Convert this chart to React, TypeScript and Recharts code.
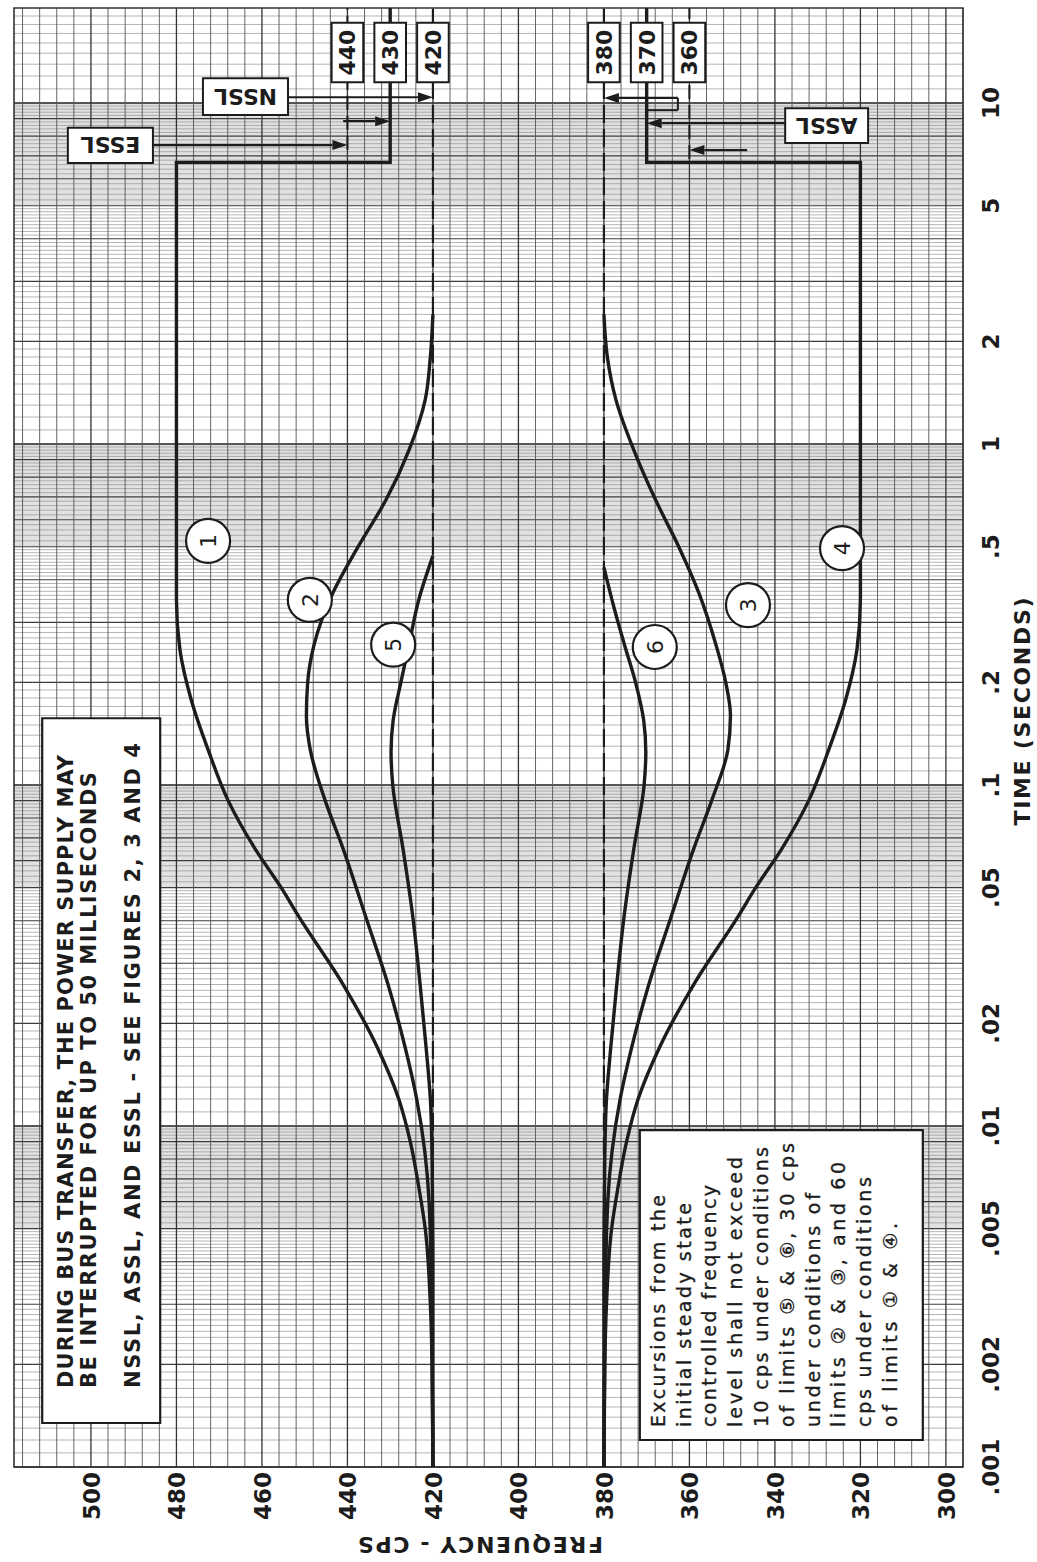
import React from 'react';
import {
  LineChart, Line, XAxis, YAxis, ReferenceLine, ReferenceArea, ReferenceDot
} from 'recharts';

// time in seconds (log axis), frequency in cps
const timeTicks = [0.001, 0.002, 0.005, 0.01, 0.02, 0.05, 0.1, 0.2, 0.5, 1, 2, 5, 10];
const timeTickLabels = ['.001', '.002', '.005', '.01', '.02', '.05', '.1', '.2', '.5', '1', '2', '5', '10'];
const freqTicks = [300, 320, 340, 360, 380, 400, 420, 440, 460, 480, 500];

// limit 1 (60 cps above 420) and its steady-state step
const limit1Time = [0.001, 0.002, 0.003, 0.005, 0.0065, 0.009, 0.012, 0.017, 0.026, 0.041, 0.05, 0.065, 0.09, 0.127, 0.177, 0.25, 0.35, 0.5];
const limit1Freq = [420, 420.2, 420.6, 421.8, 423.2, 425.3, 428, 433, 441, 451.3, 455.5, 461.6, 467.9, 472.6, 476.5, 479.2, 480, 480];
const limit1StepTime = [0.5, 6.7, 6.7, 19];
const limit1StepFreq = [480, 480, 430, 430];

// limit 2 (30 cps) and limit 5 (10 cps) above 420
const limit2Time = [0.001, 0.003, 0.006, 0.012, 0.017, 0.026, 0.041, 0.065, 0.09, 0.127, 0.16, 0.2, 0.258, 0.366, 0.5, 0.685, 0.96, 1.35, 1.8, 2.4];
const limit2Freq = [420, 420.3, 420.9, 423.8, 426.5, 430.5, 435.7, 441, 445.2, 448.7, 449.6, 449.3, 447.8, 443.4, 437.5, 431, 425.6, 421.8, 420.6, 420];
const limit5Time = [0.001, 0.004, 0.008, 0.012, 0.017, 0.026, 0.041, 0.065, 0.1, 0.125, 0.155, 0.2, 0.258, 0.35, 0.47];
const limit5Freq = [420, 420, 420.2, 420.6, 421.6, 423, 424.7, 427, 429.4, 429.8, 429.3, 427.5, 425.6, 423.3, 420];

// limits 3, 4, 6 below 380
const limit3Time = [0.001, 0.003, 0.006, 0.012, 0.017, 0.026, 0.041, 0.065, 0.09, 0.127, 0.16, 0.2, 0.258, 0.366, 0.5, 0.685, 0.96, 1.35, 1.8, 2.4];
const limit3Freq = [380, 379.7, 379.1, 376.2, 373.5, 369.5, 364.3, 359, 354.8, 351, 350.4, 351.5, 353.8, 357.8, 362.5, 367.9, 373, 377.2, 379.2, 380];
const limit4Time = [0.001, 0.002, 0.003, 0.005, 0.0065, 0.009, 0.012, 0.017, 0.026, 0.041, 0.05, 0.065, 0.09, 0.127, 0.177, 0.25, 0.35, 0.5];
const limit4Freq = [380, 379.8, 379.4, 378.2, 376.8, 374.7, 372, 367, 359, 348.7, 344.5, 338.4, 332.1, 327.4, 323.5, 320.8, 320, 320];
const limit4StepTime = [0.5, 6.7, 6.7, 19];
const limit4StepFreq = [320, 320, 370, 370];
const limit6Time = [0.001, 0.004, 0.008, 0.012, 0.017, 0.026, 0.041, 0.065, 0.1, 0.125, 0.155, 0.2, 0.258, 0.33, 0.435];
const limit6Freq = [380, 380, 379.8, 379.4, 378.4, 377, 375.3, 373, 370.6, 370.2, 370.7, 372.6, 375.2, 377.6, 380];

// circled limit numbers
const circleIds = ['1', '2', '3', '4', '5', '6'];
const circleTime = [0.52, 0.349, 0.337, 0.495, 0.258, 0.254];
const circleFreq = [472.6, 448.8, 346.3, 324.3, 429.3, 368.1];

// steady state level boxes
const levelValues = [440, 430, 420, 380, 370, 360];

// arrows: time, from freq, to freq
const arrowTime = [7.53, 10.4, 8.85, 8.73, 7.28, 10.35];
const arrowFrom = [485.5, 453.9, 441, 337.6, 346.5, 362.7];
const arrowTo = [440, 420, 430, 370, 360, 380];

const topNoteLines = [
  'DURING BUS TRANSFER, THE POWER SUPPLY MAY',
  'BE INTERRUPTED FOR UP TO 50 MILLISECONDS',
  'NSSL, ASSL, AND ESSL - SEE FIGURES 2, 3 AND 4',
];
const bottomNoteLines = [
  'Excursions from the',
  'initial steady state',
  'controlled frequency',
  'level shall not exceed',
  '10 cps under conditions',
  'of limits \u2464 & \u2465, 30 cps',
  'under conditions of',
  'limits \u2461 & \u2462, and 60',
  'cps under conditions',
  'of limits \u2460 & \u2463.',
];

const INK = '#1c1c1c';
const FONT = '"DejaVu Sans", "Noto Sans CJK JP", sans-serif';

const toPoints = (ts: number[], fs: number[]) => ts.map((t, i) => ({ t, f: fs[i] }));

// graph paper lines
const timeMinor: number[] = [];
const timeMajor: number[] = [];
const timeDecade: number[] = [];
const tintBands: number[][] = [];
[-3, -2, -1, 0, 1].forEach((k) => {
  const base = Math.pow(10, k);
  if (k < 1) tintBands.push([Number((5 * base).toPrecision(6)), Number((10 * base).toPrecision(6))]);
  for (let i = 10; i < 100; i++) {
    const t = Number(((i / 10) * base).toPrecision(6));
    if (t >= 19) break;
    if (i >= 50 && i % 2 === 1) continue;
    if (i === 10) timeDecade.push(t);
    else if (i % 10 === 0) timeMajor.push(t);
    else timeMinor.push(t);
  }
});
const freqMinor: number[] = [];
const freqMajor: number[] = [];
for (let f = 296; f <= 516; f += 4) {
  if (f % 20 === 0) freqMajor.push(f);
  else freqMinor.push(f);
}

const TimeTick = (props: any) => {
  const { x, y, payload } = props;
  const idx = timeTicks.indexOf(payload.value);
  return (
    <text x={x} y={y + 36} textAnchor="middle" fontSize={23} fontWeight="bold" fill={INK} fontFamily={FONT}>
      {timeTickLabels[idx]}
    </text>
  );
};

const FreqTick = (props: any) => {
  const { x, y, payload } = props;
  return (
    <text x={x - 5} y={y + 9} textAnchor="end" fontSize={23} fontWeight="bold" fill={INK} fontFamily={FONT}>
      {payload.value}
    </text>
  );
};

const arrowShape = (p: any) => {
  const { x1, y1, x2, y2 } = p;
  const a = Math.atan2(y2 - y1, x2 - x1);
  const len = 15;
  const half = 5;
  const bx = x2 - len * Math.cos(a);
  const by = y2 - len * Math.sin(a);
  const pts = `${x2},${y2} ${bx + half * Math.sin(a)},${by - half * Math.cos(a)} ${bx - half * Math.sin(a)},${by + half * Math.cos(a)}`;
  return (
    <g>
      <line x1={x1} y1={y1} x2={bx} y2={by} stroke={INK} strokeWidth={2.2} />
      <polygon points={pts} fill={INK} />
    </g>
  );
};

const plainSegment = (p: any) => (
  <line x1={p.x1} y1={p.y1} x2={p.x2} y2={p.y2} stroke={INK} strokeWidth={2} />
);

const vertLabel = (text: string) => (props: any) => {
  const { x, y, width, height } = props.viewBox;
  const cx = x + width / 2 + 8;
  const cy = y + height / 2;
  return (
    <text x={cx} y={cy} transform={`rotate(-90, ${cx}, ${cy})`} textAnchor="middle" fontSize={22} fontWeight="bold" fill={INK} fontFamily={FONT}>
      {text}
    </text>
  );
};

const boxNumber = (text: string) => (props: any) => {
  const { x, y, width, height } = props.viewBox;
  return (
    <text x={x + width / 2} y={y + height / 2 + 8} textAnchor="middle" fontSize={22} fontWeight="bold" fill={INK} fontFamily={FONT}>
      {text}
    </text>
  );
};

const topNote = (props: any) => {
  const { x, y } = props.viewBox;
  const baselines = [31, 54, 98];
  const lengths = [633, 616, 645];
  return (
    <g>
      {topNoteLines.map((s, i) => (
        <text key={i} x={x + 35} y={y + baselines[i]} textLength={lengths[i]} lengthAdjust="spacing"
          fontSize={21} fontWeight="bold" fill={INK} fontFamily={FONT}>{s}</text>
      ))}
    </g>
  );
};

const bottomNote = (props: any) => {
  const { x, y } = props.viewBox;
  const lengths = [232, 224, 242, 270, 280, 284, 234, 265, 250, 204];
  return (
    <g>
      {bottomNoteLines.map((s, i) => (
        <text key={i} x={x + 13} y={y + 25 + i * 25.8} textLength={lengths[i]} lengthAdjust="spacing"
          fontSize={19} fill={INK} fontFamily={FONT} stroke={INK} strokeWidth={0.35}>{s}</text>
      ))}
    </g>
  );
};

const circleShape = (id: string) => (p: any) => (
  <g>
    <circle cx={p.cx} cy={p.cy} r={22} fill="#fff" stroke={INK} strokeWidth={2.2} />
    <text x={p.cx} y={p.cy + 8} textAnchor="middle" fontSize={22} fill={INK} fontFamily={FONT}>{id}</text>
  </g>
);

const App: React.FC = () => {
  return (
    <div style={{ position: 'absolute', left: 0, top: 0, width: 1037, height: 1562, overflow: 'hidden', background: '#fff' }}>
      <style>{'html,body{margin:0;overflow:hidden;background:#fff}'}</style>
      <div style={{ position: 'absolute', left: 0, top: 0, width: 1562, height: 1037, transformOrigin: '0 0', transform: 'translate(0px, 1562px) rotate(-90deg)' }}>
        <LineChart width={1562} height={1037} margin={{ top: 14, right: 8, bottom: 0, left: 0 }} style={{ fontFamily: FONT }}>
          <XAxis
            type="number" dataKey="t" scale="log" domain={[0.001, 19]} allowDataOverflow
            ticks={timeTicks} height={74} axisLine={false} tickLine={false} tickSize={0} tickMargin={0}
            tick={TimeTick} interval={0}
            label={(p: any) => {
              const { x, y, width } = p.viewBox;
              return (
                <text x={x + width / 2 + 26} y={y + 67} textAnchor="middle" fontSize={22} fontWeight="bold"
                  fill={INK} fontFamily={FONT} textLength={228} lengthAdjust="spacing">TIME (SECONDS)</text>
              );
            }}
          />
          <YAxis
            type="number" domain={[296, 518]} allowDataOverflow ticks={freqTicks} width={95}
            axisLine={false} tickLine={false} tickSize={0} tickMargin={0} tick={FreqTick} interval={0}
            label={(p: any) => {
              const { y, height } = p.viewBox;
              const cx = 25;
              const cy = y + height / 2 - 8;
              return (
                <text x={cx} y={cy} transform={`rotate(-90, ${cx}, ${cy})`} textAnchor="middle" fontSize={22}
                  fontWeight="bold" fill={INK} fontFamily={FONT} textLength={245} lengthAdjust="spacing">FREQUENCY - CPS</text>
              );
            }}
          />

          {/* graph paper */}
          {tintBands.map(([a, b]) => (
            <ReferenceArea key={'tb' + a} x1={a} x2={b} y1={296} y2={518} fill="#b4b4b4" fillOpacity={0.4} stroke="none" zIndex={-70} />
          ))}
          {timeMinor.map((t) => (
            <ReferenceLine key={'tn' + t} x={t} stroke="#8c8c8c" strokeWidth={0.65} zIndex={-60} />
          ))}
          {timeMajor.map((t) => (
            <ReferenceLine key={'tj' + t} x={t} stroke="#3c3c3c" strokeWidth={1.1} zIndex={-55} />
          ))}
          {timeDecade.map((t) => (
            <ReferenceLine key={'td' + t} x={t} stroke="#222" strokeWidth={1.5} zIndex={-55} />
          ))}
          {freqMinor.map((f) => (
            <ReferenceLine key={'fn' + f} y={f} stroke="#555" strokeWidth={0.9} zIndex={-55} />
          ))}
          {freqMajor.map((f) => (
            <ReferenceLine key={'fj' + f} y={f} stroke="#333" strokeWidth={1.3} zIndex={-55} />
          ))}
          <ReferenceArea x1={0.001} x2={19} y1={296} y2={518} fill="none" stroke="#333" strokeWidth={1.6} zIndex={-50} />

          {/* steady state levels */}
          <ReferenceLine y={420} stroke={INK} strokeWidth={2.2} strokeDasharray="18 6" zIndex={300} />
          <ReferenceLine y={380} stroke={INK} strokeWidth={2.2} strokeDasharray="18 6" zIndex={300} />
          <ReferenceLine segment={[{ x: 7.3, y: 440 }, { x: 19, y: 440 }]} stroke={INK} strokeWidth={2} strokeDasharray="14 6" zIndex={300} />
          <ReferenceLine segment={[{ x: 6.85, y: 360 }, { x: 19, y: 360 }]} stroke={INK} strokeWidth={2} strokeDasharray="14 6" zIndex={300} />

          {/* limit curves */}
          <Line data={toPoints(limit1Time, limit1Freq)} dataKey="f" type="monotone" stroke={INK} strokeWidth={3.4} dot={false} activeDot={false} isAnimationActive={false} />
          <Line data={toPoints(limit1StepTime, limit1StepFreq)} dataKey="f" type="linear" stroke={INK} strokeWidth={3.4} dot={false} activeDot={false} isAnimationActive={false} />
          <Line data={toPoints(limit2Time, limit2Freq)} dataKey="f" type="monotone" stroke={INK} strokeWidth={3.4} dot={false} activeDot={false} isAnimationActive={false} />
          <Line data={toPoints(limit5Time, limit5Freq)} dataKey="f" type="monotone" stroke={INK} strokeWidth={3.4} dot={false} activeDot={false} isAnimationActive={false} />
          <Line data={toPoints(limit3Time, limit3Freq)} dataKey="f" type="monotone" stroke={INK} strokeWidth={3.4} dot={false} activeDot={false} isAnimationActive={false} />
          <Line data={toPoints(limit4Time, limit4Freq)} dataKey="f" type="monotone" stroke={INK} strokeWidth={3.4} dot={false} activeDot={false} isAnimationActive={false} />
          <Line data={toPoints(limit4StepTime, limit4StepFreq)} dataKey="f" type="linear" stroke={INK} strokeWidth={3.4} dot={false} activeDot={false} isAnimationActive={false} />
          <Line data={toPoints(limit6Time, limit6Freq)} dataKey="f" type="monotone" stroke={INK} strokeWidth={3.4} dot={false} activeDot={false} isAnimationActive={false} />

          {/* notes */}
          <ReferenceArea x1={0.001346} x2={0.157} y1={483.8} y2={511.4} fill="#fff" fillOpacity={1} stroke={INK} strokeWidth={2.2} zIndex={700} label={topNote} />
          <ReferenceArea x1={0.0012} x2={0.00973} y1={305.4} y2={371.6} fill="#fff" fillOpacity={1} stroke={INK} strokeWidth={2.2} zIndex={700} label={bottomNote} />

          {/* level boxes */}
          {levelValues.map((v) => (
            <ReferenceArea key={'lv' + v} x1={11.5} x2={17.2} y1={v - 3.7} y2={v + 3.7} fill="#fff" fillOpacity={1}
              stroke={INK} strokeWidth={2} zIndex={700} label={boxNumber(String(v))} />
          ))}
          <ReferenceArea x1={6.67} x2={8.46} y1={485.5} y2={505.4} fill="#fff" fillOpacity={1} stroke={INK} strokeWidth={2} zIndex={700} label={vertLabel('ESSL')} />
          <ReferenceArea x1={9.23} x2={11.83} y1={453.9} y2={473.8} fill="#fff" fillOpacity={1} stroke={INK} strokeWidth={2} zIndex={700} label={vertLabel('NSSL')} />
          <ReferenceArea x1={7.64} x2={9.66} y1={318.2} y2={337.6} fill="#fff" fillOpacity={1} stroke={INK} strokeWidth={2} zIndex={700} label={vertLabel('ASSL')} />

          {/* arrows */}
          {arrowTime.map((t, i) => (
            <ReferenceLine key={'ar' + i} segment={[{ x: t, y: arrowFrom[i] }, { x: t, y: arrowTo[i] }]} shape={arrowShape} zIndex={800} />
          ))}
          <ReferenceLine segment={[{ x: 9.53, y: 370 }, { x: 9.53, y: 362.7 }]} shape={plainSegment} zIndex={800} />
          <ReferenceLine segment={[{ x: 9.53, y: 362.7 }, { x: 10.35, y: 362.7 }]} shape={plainSegment} zIndex={800} />

          {/* circled numbers */}
          {circleIds.map((id, i) => (
            <ReferenceDot key={'c' + id} x={circleTime[i]} y={circleFreq[i]} r={22} shape={circleShape(id)} zIndex={900} />
          ))}
        </LineChart>
      </div>
    </div>
  );
};

export default App;
